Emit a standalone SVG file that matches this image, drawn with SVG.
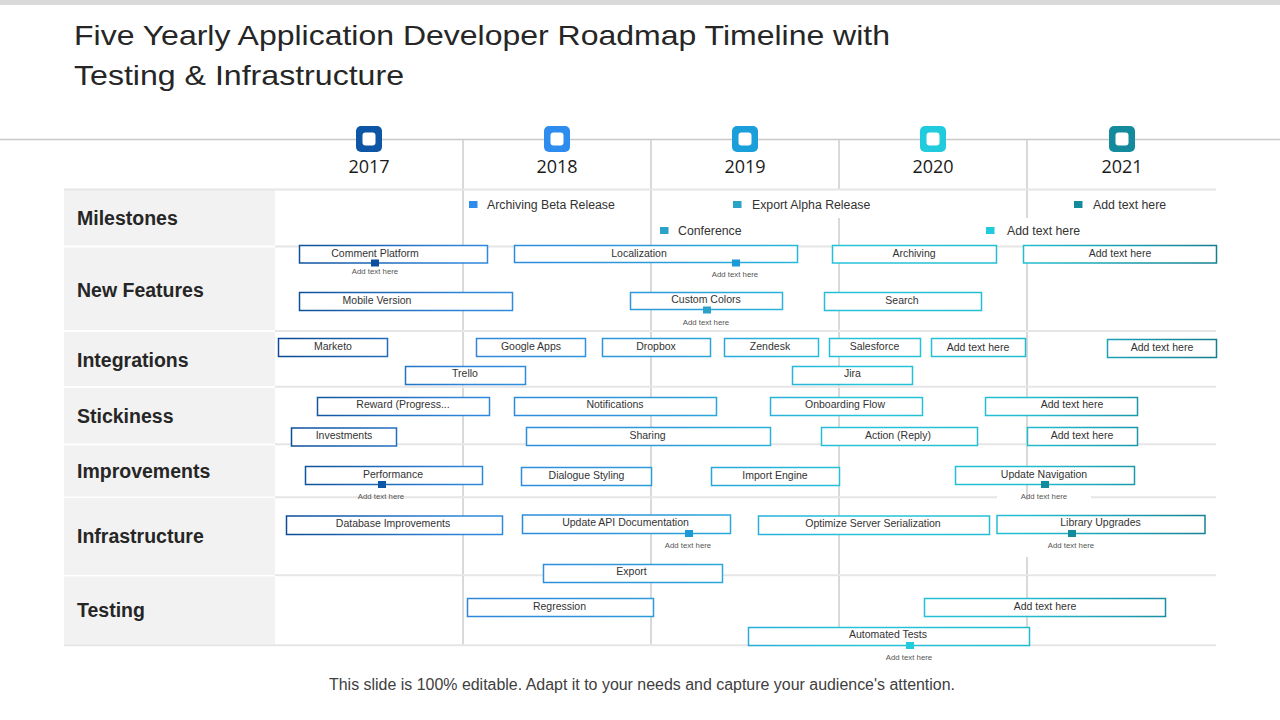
<svg xmlns="http://www.w3.org/2000/svg" width="1280" height="720" viewBox="0 0 1280 720">
<defs>
<linearGradient id="g" gradientUnits="userSpaceOnUse" x1="280" y1="0" x2="1216" y2="0">
<stop offset="0" stop-color="#0b4a94"/>
<stop offset="0.2" stop-color="#2f86dc"/>
<stop offset="0.42" stop-color="#2b9ddb"/>
<stop offset="0.62" stop-color="#25c4da"/>
<stop offset="0.8" stop-color="#22bccf"/>
<stop offset="1" stop-color="#137f91"/>
</linearGradient>
<style>
text{font-family:"Liberation Sans",Arial,sans-serif}
.bar{fill:#fff;stroke:url(#g);stroke-width:1.5}
.bt{font-size:10.5px;fill:#333;text-anchor:middle}
.sm{font-size:7.8px;fill:#555;text-anchor:middle}
.ms{font-size:12.3px;fill:#333}
.rl{font-size:19.5px;font-weight:bold;fill:#262626}
.yr{font-family:"Open Sans","Noto Sans",sans-serif;font-size:18px;fill:#1a1a1a;text-anchor:middle}
.hd{fill:#f2f2f2}
.vl{stroke:#d9d9d9;stroke-width:2;fill:none}
.hl{stroke:#e6e6e6;stroke-width:2;fill:none}
</style>
</defs>
<rect width="1280" height="720" fill="#fff"/>
<rect x="0" y="0" width="1280" height="5" fill="#d9d9d9"/>
<g id="title">
<text x="74" y="45" font-size="28" fill="#262626" textLength="816" lengthAdjust="spacingAndGlyphs">Five Yearly Application Developer Roadmap Timeline with</text>
<text x="74" y="85" font-size="28" fill="#262626" textLength="330" lengthAdjust="spacingAndGlyphs">Testing &amp; Infrastructure</text>
</g>
<g id="grid">
<line x1="0" y1="139.5" x2="1280" y2="139.5" stroke="#c8c8c8" stroke-width="1.5"/>
<path class="vl" d="M463 140V645M651 140V645M839 140V190M839 218V645M1027 140V218M1027 245V500M1027 557V645"/>
<rect class="hd" x="64" y="189" width="211" height="56.5"/>
<rect class="hd" x="64" y="247.5" width="211" height="82.5"/>
<rect class="hd" x="64" y="332" width="211" height="54"/>
<rect class="hd" x="64" y="388" width="211" height="55.5"/>
<rect class="hd" x="64" y="445.5" width="211" height="51"/>
<rect class="hd" x="64" y="498" width="211" height="77"/>
<rect class="hd" x="64" y="576.5" width="211" height="68"/>
<path class="hl" d="M64 189.5H1216M275 246.5H1216M275 331H1216M275 386.7H1216M275 444.3H1216M275 497.3H997M1091 497.3H1216M275 575.3H1216M64 645.3H1216"/>
</g>
<g id="years">
<g id="y2017"><rect x="356" y="126" width="26" height="26" rx="5" fill="#0d56a6"/><rect x="362.5" y="132.5" width="13" height="13" rx="3" fill="#fff"/><text class="yr" x="369" y="173">2017</text></g>
<g id="y2018"><rect x="544" y="126" width="26" height="26" rx="5" fill="#2e8cef"/><rect x="550.5" y="132.5" width="13" height="13" rx="3" fill="#fff"/><text class="yr" x="557" y="173">2018</text></g>
<g id="y2019"><rect x="732" y="126" width="26" height="26" rx="5" fill="#1a9fdb"/><rect x="738.5" y="132.5" width="13" height="13" rx="3" fill="#fff"/><text class="yr" x="745" y="173">2019</text></g>
<g id="y2020"><rect x="920" y="126" width="26" height="26" rx="5" fill="#1fcbdc"/><rect x="926.5" y="132.5" width="13" height="13" rx="3" fill="#fff"/><text class="yr" x="933" y="173">2020</text></g>
<g id="y2021"><rect x="1109" y="126" width="26" height="26" rx="5" fill="#138b9c"/><rect x="1115.5" y="132.5" width="13" height="13" rx="3" fill="#fff"/><text class="yr" x="1122" y="173">2021</text></g>
</g>
<g id="rowlabels">
<text class="rl" x="77" y="225">Milestones</text>
<text class="rl" x="77" y="296.5">New Features</text>
<text class="rl" x="77" y="366.5">Integrations</text>
<text class="rl" x="77" y="423.3">Stickiness</text>
<text class="rl" x="77" y="478.3">Improvements</text>
<text class="rl" x="77" y="543.3">Infrastructure</text>
<text class="rl" x="77" y="617.3">Testing</text>
</g>
<g id="milestones">
<g id="m1"><rect x="469" y="201" width="8.5" height="7" fill="#2e8cef"/><text class="ms" x="487" y="209">Archiving Beta Release</text></g>
<g id="m2"><rect x="733" y="201" width="8.5" height="7" fill="#2aa3c9"/><text class="ms" x="752" y="209">Export Alpha Release</text></g>
<g id="m3"><rect x="1074" y="201" width="8.5" height="7" fill="#138b9c"/><text class="ms" x="1093" y="209">Add text here</text></g>
<g id="m4"><rect x="660" y="227" width="8.5" height="7" fill="#2aa3c9"/><text class="ms" x="678" y="235">Conference</text></g>
<g id="m5"><rect x="986" y="227" width="8.5" height="7" fill="#1fcbdc"/><text class="ms" x="1007" y="235">Add text here</text></g>
</g>
<g id="newfeatures">
<g id="nf1"><rect class="bar" x="299.5" y="245.5" width="188" height="17.5"/><text class="bt" x="375" y="256.5">Comment Platform</text><rect x="371" y="259.5" width="8" height="7" fill="#0b4f9c"/><text class="sm" x="375" y="273.5">Add text here</text></g>
<g id="nf2"><rect class="bar" x="514.5" y="245.5" width="283" height="17"/><text class="bt" x="639" y="256.5">Localization</text><rect x="732" y="259.5" width="8" height="7" fill="#1a9ad6"/><text class="sm" x="735" y="276.5">Add text here</text></g>
<g id="nf3"><rect class="bar" x="832.5" y="245.5" width="164" height="17.5"/><text class="bt" x="914" y="256.5">Archiving</text></g>
<g id="nf4"><rect class="bar" x="1023.5" y="245.5" width="193" height="17.5"/><text class="bt" x="1120" y="256.5">Add text here</text></g>
<g id="nf5"><rect class="bar" x="299.5" y="292.5" width="213" height="18"/><text class="bt" x="377" y="303.5">Mobile Version</text></g>
<g id="nf6"><rect class="bar" x="630.5" y="292.5" width="152" height="17"/><text class="bt" x="706" y="303">Custom Colors</text><rect x="703" y="306.5" width="8" height="7" fill="#2aa3c9"/><text class="sm" x="706" y="324.5">Add text here</text></g>
<g id="nf7"><rect class="bar" x="824.5" y="292.5" width="157" height="18"/><text class="bt" x="902" y="303.5">Search</text></g>
</g>
<g id="integrations">
<g id="in1"><rect class="bar" x="278.5" y="338.5" width="109" height="18"/><text class="bt" x="333" y="349.5">Marketo</text></g>
<g id="in2"><rect class="bar" x="476.5" y="338.5" width="109" height="18"/><text class="bt" x="531" y="349.5">Google Apps</text></g>
<g id="in3"><rect class="bar" x="602.5" y="338.5" width="108" height="18"/><text class="bt" x="656" y="349.5">Dropbox</text></g>
<g id="in4"><rect class="bar" x="724.5" y="338.5" width="94" height="18"/><text class="bt" x="770" y="349.5">Zendesk</text></g>
<g id="in5"><rect class="bar" x="829.5" y="338.5" width="91" height="18"/><text class="bt" x="874.5" y="349.5">Salesforce</text></g>
<g id="in6"><rect class="bar" x="931.5" y="338.5" width="94" height="18"/><text class="bt" x="978" y="350.5">Add text here</text></g>
<g id="in7"><rect class="bar" x="1107.5" y="339.5" width="109" height="18"/><text class="bt" x="1162" y="351">Add text here</text></g>
<g id="in8"><rect class="bar" x="405.5" y="366.5" width="120" height="18"/><text class="bt" x="465" y="377">Trello</text></g>
<g id="in9"><rect class="bar" x="792.5" y="366.5" width="120" height="18"/><text class="bt" x="852.5" y="377">Jira</text></g>
</g>
<g id="stickiness">
<g id="st1"><rect class="bar" x="317.5" y="397.5" width="172" height="18"/><text class="bt" x="403" y="407.5">Reward (Progress...</text></g>
<g id="st2"><rect class="bar" x="514.5" y="397.5" width="202" height="18"/><text class="bt" x="615" y="407.5">Notifications</text></g>
<g id="st3"><rect class="bar" x="770.5" y="397.5" width="152" height="18"/><text class="bt" x="845" y="407.5">Onboarding Flow</text></g>
<g id="st4"><rect class="bar" x="985.5" y="397.5" width="152" height="18"/><text class="bt" x="1072" y="407.5">Add text here</text></g>
<g id="st5"><rect class="bar" x="291.5" y="428" width="105" height="18"/><text class="bt" x="344" y="438.5">Investments</text></g>
<g id="st6"><rect class="bar" x="526.5" y="427.5" width="244" height="18"/><text class="bt" x="647.5" y="438.5">Sharing</text></g>
<g id="st7"><rect class="bar" x="821.5" y="427.5" width="156" height="18"/><text class="bt" x="898" y="438.5">Action (Reply)</text></g>
<g id="st8"><rect class="bar" x="1027.5" y="427.5" width="110" height="18"/><text class="bt" x="1082" y="438.5">Add text here</text></g>
</g>
<g id="improvements">
<g id="im1"><rect class="bar" x="305.5" y="466.5" width="177" height="18"/><text class="bt" x="393" y="477.5">Performance</text><rect x="378" y="481" width="8" height="7" fill="#0b56a5"/><text class="sm" x="381" y="498.5">Add text here</text></g>
<g id="im2"><rect class="bar" x="521.5" y="467.5" width="130" height="18"/><text class="bt" x="586.5" y="478.5">Dialogue Styling</text></g>
<g id="im3"><rect class="bar" x="711.5" y="467.5" width="128" height="18"/><text class="bt" x="775" y="478.5">Import Engine</text></g>
<g id="im4"><rect class="bar" x="955.5" y="466.5" width="179" height="18"/><text class="bt" x="1044" y="477.5">Update Navigation</text><rect x="1041" y="481" width="8" height="7" fill="#138b9c"/><text class="sm" x="1044" y="498.5">Add text here</text></g>
</g>
<g id="infrastructure">
<g id="if1"><rect class="bar" x="286.5" y="516" width="216" height="18.5"/><text class="bt" x="393" y="526.5">Database Improvements</text></g>
<g id="if2"><rect class="bar" x="522.5" y="515" width="208" height="18.5"/><text class="bt" x="625.5" y="525.5">Update API Documentation</text><rect x="685" y="530" width="8" height="7" fill="#1a9ad6"/><text class="sm" x="688" y="547.5">Add text here</text></g>
<g id="if3"><rect class="bar" x="758.5" y="516" width="231" height="18.5"/><text class="bt" x="873" y="526.5">Optimize Server Serialization</text></g>
<g id="if4"><rect class="bar" x="997" y="515.5" width="208" height="18"/><text class="bt" x="1100.5" y="525.5">Library Upgrades</text><rect x="1068" y="530" width="8" height="7" fill="#138b9c"/><text class="sm" x="1071" y="547.5">Add text here</text></g>
<g id="if5"><rect class="bar" x="543.5" y="564.5" width="179" height="18"/><text class="bt" x="631.5" y="575">Export</text></g>
</g>
<g id="testing">
<g id="ts1"><rect class="bar" x="467.5" y="598.5" width="186" height="18"/><text class="bt" x="559.5" y="609.5">Regression</text></g>
<g id="ts2"><rect class="bar" x="924.5" y="598.5" width="241" height="18"/><text class="bt" x="1045" y="609.5">Add text here</text></g>
<g id="ts3"><rect class="bar" x="748.5" y="627.5" width="281" height="18"/><text class="bt" x="888" y="638">Automated Tests</text><rect x="906" y="642" width="8" height="7" fill="#1fcbdc"/><text class="sm" x="909" y="659.5">Add text here</text></g>
</g>
<g id="connectors"/>
<text id="footer" x="642" y="690" font-size="16" fill="#404040" text-anchor="middle" textLength="626" lengthAdjust="spacingAndGlyphs">This slide is 100% editable. Adapt it to your needs and capture your audience's attention.</text>
</svg>
